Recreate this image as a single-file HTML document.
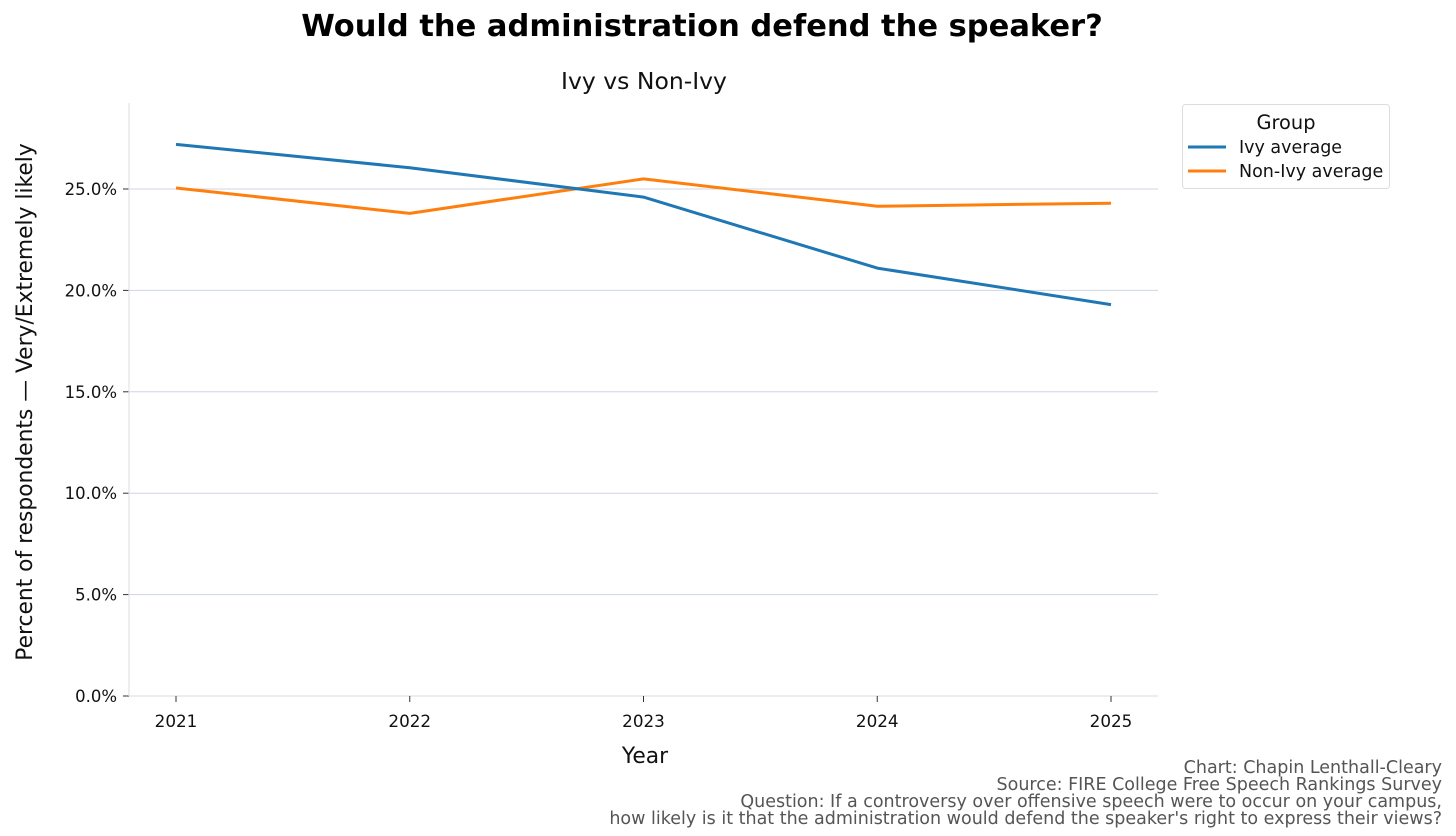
<!DOCTYPE html>
<html><head><meta charset="utf-8"><style>
html,body{margin:0;padding:0;background:#fff;}
svg{display:block;font-family:"DejaVu Sans","Liberation Sans",sans-serif;}
</style></head><body>
<svg id="chart" width="1456" height="836" viewBox="0 0 1456 836">
<text x="702" y="36" text-anchor="middle" font-size="30.5" font-weight="bold" fill="#000">Would the administration defend the speaker?</text>
<text x="644" y="89" text-anchor="middle" font-size="23.5" fill="#111">Ivy vs Non-Ivy</text>
<g id="grid"></g>
<g id="yaxis"></g>
<g id="xaxis"></g>
<g id="series"></g>
<text transform="translate(32,402) rotate(-90)" text-anchor="middle" font-size="21.8" fill="#111">Percent of respondents — Very/Extremely likely</text>
<text x="645" y="763" text-anchor="middle" font-size="21.8" fill="#111">Year</text>
<g>
<rect x="1182.5" y="104.5" width="207" height="84" rx="3" fill="#fff" stroke="#ddd"/>
<text x="1286" y="129" text-anchor="middle" font-size="19.4" fill="#111">Group</text>
<line x1="1188" y1="147" x2="1226" y2="147" stroke="#1f77b4" stroke-width="3"/>
<text x="1239" y="153" font-size="17.5" fill="#111">Ivy average</text>
<line x1="1188" y1="171" x2="1226" y2="171" stroke="#ff7f0e" stroke-width="3"/>
<text x="1239" y="177" font-size="17.5" fill="#111">Non-Ivy average</text>
</g>
<g font-size="17.5" fill="#555" text-anchor="end">
<text x="1442" y="773">Chart: Chapin Lenthall-Cleary</text>
<text x="1442" y="790">Source: FIRE College Free Speech Rankings Survey</text>
<text x="1442" y="807">Question: If a controversy over offensive speech were to occur on your campus,</text>
<text x="1442" y="824">how likely is it that the administration would defend the speaker's right to express their views?</text>
</g>
</svg>
<script>
const years = [2021, 2022, 2023, 2024, 2025];
const ivyValues = [27.2, 26.05, 24.6, 21.1, 19.3];
const nonIvyValues = [25.05, 23.8, 25.5, 24.15, 24.3];
const yTicks = [0, 5, 10, 15, 20, 25];
const yTickLabels = ["0.0%", "5.0%", "10.0%", "15.0%", "20.0%", "25.0%"];

const NS = "http://www.w3.org/2000/svg";
const L = 129, R = 1158, T = 103, B = 696;
const x = yr => 176 + (yr - 2021) * 233.75;
const y = v => 696 - v * 20.28;
function mk(tag, attrs, parent) {
  const e = document.createElementNS(NS, tag);
  for (const k in attrs) e.setAttribute(k, attrs[k]);
  parent.appendChild(e);
  return e;
}
const grid = document.getElementById('grid');
const ya = document.getElementById('yaxis');
const xa = document.getElementById('xaxis');
const ser = document.getElementById('series');

yTicks.forEach((t, i) => {
  const yy = y(t);
  if (t > 0) {
    const g = mk('line', {x1: L, x2: R, y1: yy, y2: yy, stroke: '#cfd6e0', 'stroke-width': 1}, grid);
    
    
  }
  const tk = mk('line', {x1: L - 6, x2: L, y1: yy, y2: yy, stroke: '#333', 'stroke-width': 1}, ya);
  
  
  const lb = mk('text', {x: L - 12, y: yy + 6, 'text-anchor': 'end', 'font-size': 16.5, fill: '#111'}, ya);
  lb.textContent = yTickLabels[i];
  
  
});
const ls = mk('line', {x1: L, x2: L, y1: T, y2: B, stroke: '#e2e2e2', 'stroke-width': 1.2}, ya);


const bs = mk('line', {x1: L, x2: R, y1: B, y2: B, stroke: '#e2e2e2', 'stroke-width': 1.2}, xa);


years.forEach(yr => {
  const tk = mk('line', {x1: x(yr), x2: x(yr), y1: B, y2: B + 6, stroke: '#333', 'stroke-width': 1}, xa);
  
  
  const lb = mk('text', {x: x(yr), y: B + 31, 'text-anchor': 'middle', 'font-size': 16.8, fill: '#111'}, xa);
  lb.textContent = yr;
  
  
});
function line(vals, color, name) {
  const p = mk('polyline', {points: vals.map((v, i) => x(years[i]) + ',' + y(v)).join(' '), fill: 'none', stroke: color, 'stroke-width': 3, 'stroke-linejoin': 'round'}, ser);
  
  
}
line(nonIvyValues, '#ff7f0e', 'non-ivy-average-line');
line(ivyValues, '#1f77b4', 'ivy-average-line');
</script>
</body></html>
